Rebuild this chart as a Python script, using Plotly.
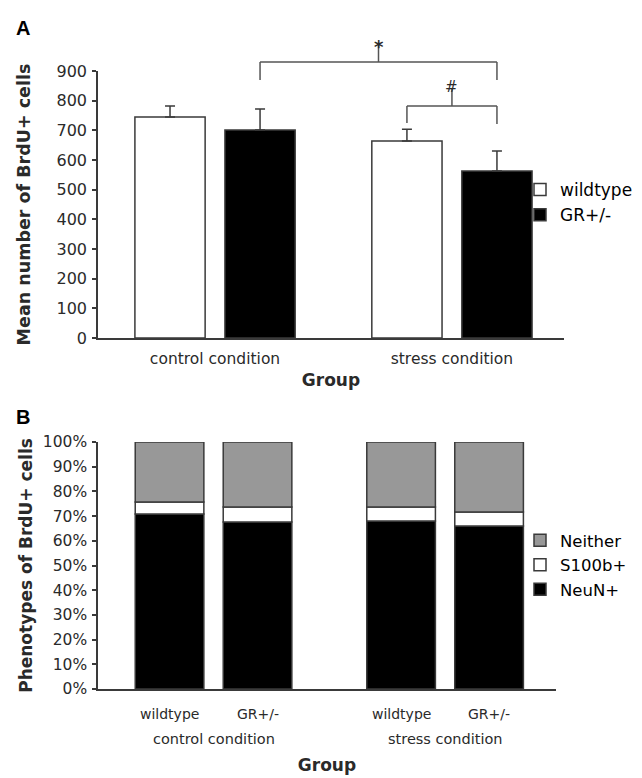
import plotly.graph_objects as go

# ---------------- data ----------------
groups = ["control condition", "stress condition"]
genotypes = ["wildtype", "GR+/-"]

# Panel A: mean number of BrdU+ cells (+ SEM)
wt_mean = [745, 664]
wt_err = [37, 40]
gr_mean = [701, 563]
gr_err = [71, 67]

# Panel B: phenotypes of BrdU+ cells (%)
neun_wt = [70.9, 68.0]
s100_wt = [4.8, 5.7]
neither_wt = [24.3, 26.3]
neun_gr = [67.6, 66.0]
s100_gr = [6.1, 5.7]
neither_gr = [26.3, 28.3]

ya_ticks = list(range(0, 901, 100))
yb_ticks = list(range(0, 101, 10))
yb_ticktext = [f"{v}%" for v in yb_ticks]

# ---------------- style ----------------
PAGE_OFF = 8            # the page body offsets the figure by 8px
W, H = 642 - PAGE_OFF, 778 - PAGE_OFF
FONT = "DejaVu Sans"
LINE = "#3a3a3a"
TXT = "#2a2a2a"
GRAY = "#989898"
BARGAP = 0.24
GROUPGAP = 0.22


def py(px):
    """screen pixel row -> paper y"""
    return 1 - (px - PAGE_OFF) / H


def px_x(px):
    return (px - PAGE_OFF) / W


fig = go.Figure()

# Panel A bars
fig.add_trace(go.Bar(
    x=groups, y=wt_mean, name="wildtype", offsetgroup="wt",
    marker=dict(color="white", line=dict(color=LINE, width=1.5)),
    error_y=dict(type="data", symmetric=False, array=wt_err, arrayminus=[0] * len(wt_err),
                 color=LINE, thickness=1.5, width=5),
    xaxis="x", yaxis="y", legend="legend"))
fig.add_trace(go.Bar(
    x=groups, y=gr_mean, name="GR+/-", offsetgroup="gr",
    marker=dict(color="black", line=dict(color=LINE, width=1.5)),
    error_y=dict(type="data", symmetric=False, array=gr_err, arrayminus=[0] * len(gr_err),
                 color=LINE, thickness=1.5, width=5),
    xaxis="x", yaxis="y", legend="legend"))

# Panel B stacked bars (stack via base, grouped by genotype)
pheno = [
    ("NeuN+", "black", neun_wt, neun_gr, 3),
    ("S100b+", "white", s100_wt, s100_gr, 2),
    ("Neither", GRAY, neither_wt, neither_gr, 1),
]
base_wt = [0.0] * len(groups)
base_gr = [0.0] * len(groups)
for name, color, vwt, vgr, rank in pheno:
    for og, vals, base, show in (("wt", vwt, base_wt, True), ("gr", vgr, base_gr, False)):
        fig.add_trace(go.Bar(
            x=groups, y=vals, base=list(base), name=name, offsetgroup=og,
            legendgroup=name, showlegend=show, legendrank=rank,
            marker=dict(color=color, line=dict(color=LINE, width=1.5)),
            xaxis="x2", yaxis="y2", legend="legend2"))
        for i, v in enumerate(vals):
            base[i] += v

axis_common = dict(showgrid=False, zeroline=False, showline=True, linecolor=LINE,
                   linewidth=1.5, automargin=False)

fig.update_layout(
    width=W, height=H,
    margin=dict(l=0, r=0, t=0, b=0),
    paper_bgcolor="white", plot_bgcolor="white",
    barmode="group", bargap=BARGAP, bargroupgap=GROUPGAP,
    font=dict(family=FONT, color=TXT),
    xaxis=dict(domain=[px_x(98), px_x(564)], anchor="y", range=[-0.494, 1.473],
               ticks="", ticklabelstandoff=6, tickfont=dict(family=FONT, size=15.5, color=TXT),
               **axis_common,
               title=dict(text="<b>Group</b>", font=dict(family=FONT, size=17, color=TXT), standoff=7)),
    yaxis=dict(domain=[py(338), py(71)], anchor="x", range=[0, 900], tickvals=ya_ticks,
               ticks="outside", ticklen=4, tickcolor=LINE, tickwidth=1.5, ticklabelstandoff=2,
               tickfont=dict(family=FONT, size=16, color=TXT), **axis_common,
               title=dict(text="<b>Mean number of BrdU+ cells</b>",
                          font=dict(family=FONT, size=17.5, color=TXT), standoff=21)),
    xaxis2=dict(domain=[px_x(98), px_x(556)], anchor="y2", range=[-0.499, 1.479],
                ticks="", showticklabels=False, **axis_common,
                title=dict(text="<b>Group</b>", font=dict(family=FONT, size=17, color=TXT), standoff=69)),
    yaxis2=dict(domain=[py(689), py(442)], anchor="x2", range=[0, 100], tickvals=yb_ticks,
                ticktext=yb_ticktext, ticks="outside", ticklen=4, tickcolor=LINE, tickwidth=1.5,
                ticklabelstandoff=2, tickfont=dict(family=FONT, size=15.5, color=TXT),
                **axis_common,
                title=dict(text="<b>Phenotypes of BrdU+ cells</b>",
                           font=dict(family=FONT, size=17, color=TXT), standoff=6)),
    legend=dict(x=px_x(520), y=py(172), xanchor="left", yanchor="top",
                font=dict(family=FONT, size=17, color="black"), bgcolor="rgba(0,0,0,0)",
                tracegroupgap=0),
    legend2=dict(x=px_x(520), y=py(523), xanchor="left", yanchor="top",
                 font=dict(family=FONT, size=16.5, color="black"), bgcolor="rgba(0,0,0,0)",
                 traceorder="normal", tracegroupgap=1),
)

# bar centres in category units (derived from bargap / number of offset groups)
slot = (1 - BARGAP) / 2
off = slot / 2
wt_c = [i - off for i in range(len(groups))]
gr_c = [i + off for i in range(len(groups))]

# significance brackets (panel A)
br = dict(type="line", xref="x", yref="paper", line=dict(color="#555555", width=1.5))
# * : GR control vs GR stress
x0, x1 = gr_c[0], gr_c[1]
xm = (x0 + x1) / 2
for (a, b, c, d) in [(x0, 80, x0, 62), (x0, 62, x1, 62), (x1, 62, x1, 80), (xm, 62, xm, 44)]:
    fig.add_shape(x0=a, y0=py(b), x1=c, y1=py(d), **br)
fig.add_annotation(x=xm, y=py(34), xref="x", yref="paper", text="<b>*</b>", showarrow=False,
                   font=dict(family=FONT, size=18, color=TXT))
# # : WT stress vs GR stress
x0, x1 = wt_c[1], gr_c[1]
xm = (x0 + x1) / 2
for (a, b, c, d) in [(x0, 123, x0, 106), (x0, 106, x1, 106), (x1, 106, x1, 124), (xm, 106, xm, 88)]:
    fig.add_shape(x0=a, y0=py(b), x1=c, y1=py(d), **br)
fig.add_annotation(x=xm, y=py(76), xref="x", yref="paper", text="#", showarrow=False,
                   font=dict(family=FONT, size=15, color=TXT))

# panel B category labels (genotype + condition)
for i, g in enumerate(groups):
    for xc, lab in ((wt_c[i], genotypes[0]), (gr_c[i], genotypes[1])):
        fig.add_annotation(x=xc, y=py(714), xref="x2", yref="paper", text=lab, showarrow=False,
                           yanchor="middle", font=dict(family=FONT, size=14, color=TXT))
    fig.add_annotation(x=i, y=py(739), xref="x2", yref="paper", text=g, showarrow=False,
                       yanchor="middle", font=dict(family=FONT, size=14.5, color=TXT))

# panel letters
fig.add_annotation(x=px_x(14), y=py(28), xref="paper", yref="paper", text="<b>A</b>",
                   showarrow=False, xanchor="left", yanchor="middle",
                   font=dict(family="Liberation Sans", size=20, color="black"))
fig.add_annotation(x=px_x(14), y=py(417), xref="paper", yref="paper", text="<b>B</b>",
                   showarrow=False, xanchor="left", yanchor="middle",
                   font=dict(family="Liberation Sans", size=20, color="black"))

fig.write_html("out.html")
